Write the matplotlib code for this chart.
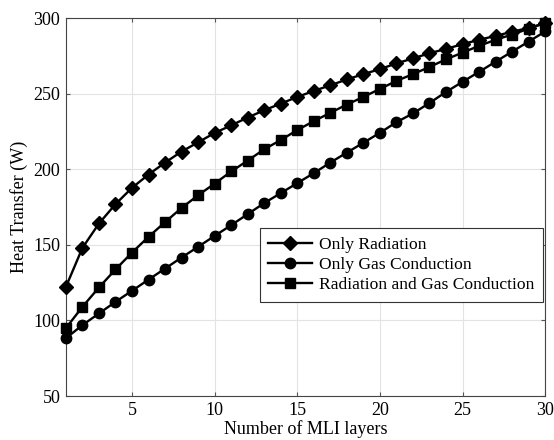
import numpy as np
import matplotlib.pyplot as plt

plt.rcParams['font.family'] = ['Liberation Serif', 'DejaVu Serif']

layers = np.arange(1, 31)

only_radiation = [122.2, 148.0, 164.1, 176.9, 187.7, 196.5, 204.4, 211.7, 217.8, 224.0,
                  229.0, 234.2, 239.0, 243.4, 247.8, 251.8, 255.5, 259.4, 262.9, 266.2,
                  270.0, 273.3, 276.7, 279.6, 282.7, 285.6, 288.2, 290.9, 293.5, 296.5]
only_gas = [88.2, 96.9, 104.6, 112.3, 119.6, 127.0, 134.3, 141.6, 148.7, 155.9,
            163.0, 170.3, 177.6, 184.2, 190.8, 197.4, 204.4, 211.0, 217.5, 224.1,
            231.1, 236.9, 243.8, 251.1, 257.8, 264.4, 271.1, 277.8, 284.4, 291.1]
rad_and_gas = [94.9, 109.0, 121.8, 133.7, 144.9, 155.3, 165.0, 174.4, 182.8, 190.5,
               198.5, 205.7, 213.2, 219.3, 225.9, 231.8, 237.3, 242.8, 247.8, 253.1,
               258.4, 262.9, 267.6, 272.7, 277.1, 281.6, 285.6, 289.1, 292.9, 296.8]

fig = plt.figure(figsize=(5.54, 4.40), dpi=100)
ax = fig.add_axes([0.119, 0.10, 0.865, 0.859])

ax.plot(layers, only_radiation, marker='D', markersize=6.8, label='Only Radiation',
        color='black', linewidth=1.7, clip_on=False, zorder=3)
ax.plot(layers, only_gas, marker='o', markersize=7.5, label='Only Gas Conduction',
        color='black', linewidth=1.7, clip_on=False, zorder=3)
ax.plot(layers, rad_and_gas, marker='s', markersize=6.5, label='Radiation and Gas Conduction',
        color='black', linewidth=1.7, clip_on=False, zorder=3)

ax.set_xlim(1, 30)
ax.set_ylim(50, 300)
ax.set_xticks([5, 10, 15, 20, 25, 30])
ax.set_yticks([50, 100, 150, 200, 250, 300])
ax.grid(True, color='#e3e3e3', linewidth=0.8)
ax.set_axisbelow(True)
ax.tick_params(direction='in', top=True, right=True, labelsize=13,
               length=3, color='#555555', pad=4)
for s in ax.spines.values():
    s.set_color('#444444')
    s.set_linewidth(0.8)

ax.set_xlabel('Number of MLI layers', fontsize=13, labelpad=1)
ax.set_ylabel('Heat Transfer (W)', fontsize=13, labelpad=4)

# legend box sits right of centre, bottom at ~25% of the axes height
leg = ax.legend(loc='lower right', bbox_to_anchor=(0.996, 0.249), fontsize=12.6,
                fancybox=False, framealpha=1, edgecolor='#333333',
                handlelength=2.5, borderpad=0.5, labelspacing=0.22, handletextpad=0.4,
                borderaxespad=0)
leg.get_frame().set_linewidth(0.8)
leg.set_zorder(5)

fig.savefig('out.png', dpi=100)
